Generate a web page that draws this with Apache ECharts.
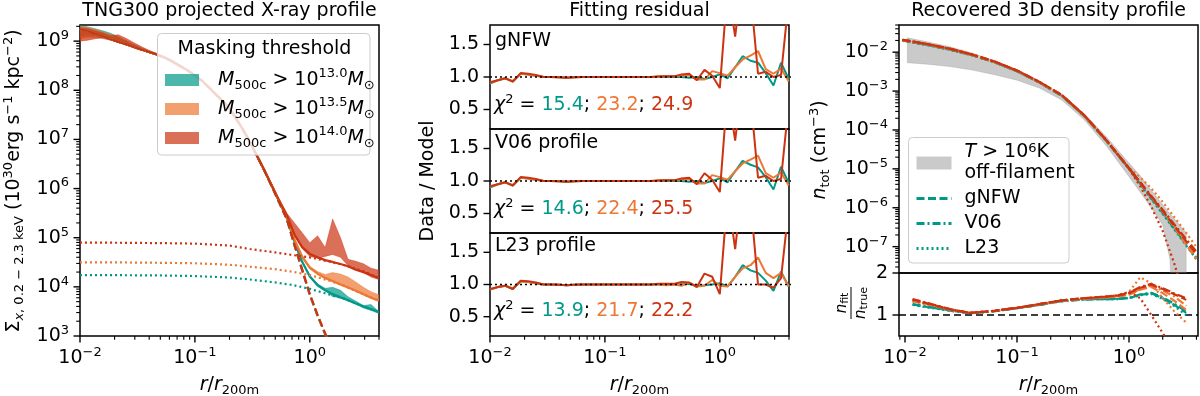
<!DOCTYPE html>
<html>
<head>
<meta charset="utf-8">
<title>X-ray profiles</title>
<script src="https://cdn.jsdelivr.net/npm/echarts@6/dist/echarts.min.js"></script>
<style>
html,body{margin:0;padding:0;background:#ffffff;}
#chart{width:1200px;height:396px;}
</style>
</head>
<body>
<div id="chart"></div>
<script>
// ======================= DATA =======================
// radial bins r/r200m (left & middle panels)
const rGrid = [0.0100,0.0117,0.0136,0.0158,0.0185,0.0215,0.0251,0.0293,0.0341,0.0398,
  0.0464,0.0541,0.0631,0.0736,0.0858,0.100,0.117,0.136,0.158,0.185,
  0.215,0.251,0.293,0.341,0.398,0.464,0.541,0.631,0.736,0.858,
  1.00,1.17,1.36,1.58,1.85,2.15,2.51,2.93,3.41,3.98];

// Left panel: log10 of surface brightness (data bands, lo/hi)
const logBandTealLo = [9.10,9.12,9.11,9.06,9.02,8.97,8.93,8.87,8.82,8.77,
  8.72,8.66,8.578,8.488,8.398,8.288,8.168,8.018,7.868,7.708,
  7.508,7.258,6.988,6.688,6.380,6.050,5.715,5.385,4.880,4.490,
  4.200,4.010,3.920,3.800,3.780,3.720,3.655,3.570,3.520,3.460];
const logBandTealHi = [9.32,9.29,9.25,9.21,9.16,9.09,9.01,8.93,8.86,8.80,
  8.745,8.685,8.602,8.512,8.422,8.312,8.192,8.042,7.892,7.732,
  7.532,7.282,7.012,6.712,6.405,6.080,5.745,5.415,4.930,4.530,
  4.235,4.060,3.970,3.990,3.930,3.800,3.710,3.620,3.640,3.500];
const logBandOrangeLo = [9.05,9.08,9.08,9.05,9.02,8.97,8.93,8.87,8.82,8.77,
  8.72,8.66,8.578,8.488,8.398,8.288,8.168,8.018,7.868,7.708,
  7.508,7.258,6.988,6.688,6.380,6.055,5.725,5.400,4.930,4.590,
  4.370,4.250,4.160,4.100,4.040,3.980,3.910,3.840,3.770,3.720];
const logBandOrangeHi = [9.30,9.28,9.24,9.19,9.14,9.08,9.01,8.93,8.86,8.80,
  8.745,8.685,8.602,8.512,8.422,8.312,8.192,8.042,7.892,7.732,
  7.532,7.282,7.012,6.712,6.410,6.085,5.755,5.435,4.990,4.640,
  4.420,4.310,4.250,4.290,4.260,4.200,4.100,3.990,3.900,3.840];
const logBandRedLo = [9.00,9.02,9.05,9.07,9.07,9.02,8.97,8.90,8.84,8.78,
  8.725,8.662,8.578,8.488,8.398,8.288,8.168,8.018,7.868,7.708,
  7.508,7.258,6.988,6.688,6.385,6.065,5.740,5.420,5.040,4.780,
  4.620,4.580,4.620,4.660,4.600,4.430,4.360,4.290,4.200,4.150];
const logBandRedHi = [9.27,9.25,9.21,9.17,9.11,9.13,9.06,8.97,8.89,8.815,
  8.75,8.685,8.602,8.512,8.422,8.312,8.192,8.042,7.892,7.732,
  7.532,7.282,7.012,6.712,6.410,6.090,5.780,5.500,5.300,5.100,
  4.900,5.040,4.800,5.380,5.000,4.560,4.520,4.470,4.380,4.340];

// Left panel: total model (solid), log10
const logSolidTeal = [9.25,9.20,9.15,9.10,9.04,8.99,8.94,8.88,8.83,8.78,
  8.73,8.67,8.59,8.50,8.41,8.30,8.18,8.03,7.88,7.72,
  7.52,7.27,7.00,6.70,6.392,6.065,5.730,5.400,4.911,4.510,
  4.210,4.032,3.931,3.852,3.786,3.728,3.663,3.600,3.550,3.490];
const logSolidOrange = [9.25,9.20,9.15,9.10,9.04,8.99,8.94,8.88,8.83,8.78,
  8.73,8.67,8.59,8.50,8.41,8.30,8.18,8.03,7.88,7.72,
  7.52,7.27,7.00,6.70,6.393,6.068,5.738,5.417,4.958,4.613,
  4.388,4.267,4.183,4.117,4.049,3.985,3.920,3.850,3.780,3.720];
const logSolidRed = [9.25,9.20,9.15,9.10,9.04,8.99,8.94,8.88,8.83,8.78,
  8.73,8.67,8.59,8.50,8.41,8.30,8.18,8.03,7.88,7.72,
  7.52,7.27,7.00,6.70,6.398,6.078,5.760,5.457,5.062,4.807,
  4.671,4.600,4.544,4.507,4.465,4.420,4.350,4.300,4.240,4.180];

// Left panel: halo component (dashed), log10, first 34 bins
const logHaloTeal = [9.25,9.20,9.15,9.10,9.04,8.99,8.94,8.88,8.83,8.78,
  8.73,8.67,8.59,8.50,8.41,8.30,8.18,8.03,7.88,7.72,
  7.52,7.27,7.00,6.70,6.385,6.055,5.715,5.375,4.840,4.335,3.835,3.405,3.035,2.690];
const logHaloOrange = [9.25,9.20,9.15,9.10,9.04,8.99,8.94,8.88,8.83,8.78,
  8.73,8.67,8.59,8.50,8.41,8.30,8.18,8.03,7.88,7.72,
  7.52,7.27,7.00,6.70,6.390,6.060,5.720,5.380,4.850,4.350,3.850,3.420,3.050,2.700];
const logHaloRed = [9.25,9.20,9.15,9.10,9.04,8.99,8.94,8.88,8.83,8.78,
  8.73,8.67,8.59,8.50,8.41,8.30,8.18,8.03,7.88,7.72,
  7.52,7.27,7.00,6.70,6.390,6.060,5.720,5.380,4.850,4.350,3.850,3.420,3.050,2.700];

// Left panel: background component (dotted), log10
const rBg = [0.01,0.02,0.05,0.1,0.2,0.3,0.5,0.7,1.0,1.5,2.0,3.0,4.0];
const logBgTeal   = [4.24,4.238,4.232,4.22,4.19,4.15,4.09,4.04,3.96,3.84,3.76,3.59,3.49];
const logBgOrange = [4.50,4.498,4.49,4.48,4.45,4.41,4.36,4.31,4.24,4.12,4.02,3.84,3.72];
const logBgRed    = [4.90,4.898,4.89,4.88,4.84,4.77,4.70,4.65,4.60,4.51,4.44,4.31,4.18];

// Middle panel: Data / Model residuals
const resG_t = [0.90,0.95,0.98,0.93,1.05,1.04,1.02,1.00,1.00,0.995,0.99,0.995,1.00,1.00,1.00,1.00,1.00,1.00,1.00,1.00,
  1.00,1.00,1.00,1.005,1.00,1.00,0.99,1.00,0.97,1.00,1.04,0.98,1.15,1.32,1.25,1.22,1.06,0.87,1.22,0.97];
const resG_o = [0.91,0.95,0.98,0.94,1.05,1.04,1.02,1.00,1.00,0.995,0.99,0.995,1.00,1.00,1.00,1.00,1.00,1.00,1.00,1.00,
  1.00,1.00,1.00,1.01,1.01,1.02,1.03,0.96,0.96,1.09,1.06,1.02,1.15,1.27,1.33,1.40,1.12,1.05,1.13,0.93];
const resG_r = [0.92,0.95,0.98,0.93,1.06,1.05,1.03,1.00,1.00,0.995,0.99,0.995,1.00,1.00,1.00,1.00,1.00,1.00,1.00,1.00,
  1.00,1.00,1.01,1.01,1.01,1.04,1.05,0.95,1.11,1.02,0.83,2.40,1.62,2.60,2.30,1.05,1.08,1.00,1.03,2.20];
const resV_t = [0.90,0.95,0.98,0.93,1.05,1.04,1.02,1.00,1.00,0.995,0.99,0.995,1.00,1.00,1.00,1.00,1.00,1.00,1.00,1.00,
  1.00,1.00,1.00,1.005,1.00,1.00,0.99,1.00,0.97,1.00,1.04,0.98,1.15,1.31,1.25,1.21,1.06,0.87,1.22,0.97];
const resV_o = [0.91,0.95,0.98,0.94,1.05,1.04,1.02,1.00,1.00,0.995,0.99,0.995,1.00,1.00,1.00,1.00,1.00,1.00,1.00,1.00,
  1.00,1.00,1.00,1.01,1.01,1.02,1.03,0.96,0.96,1.09,1.06,1.02,1.15,1.27,1.33,1.39,1.12,1.05,1.13,0.93];
const resV_r = [0.92,0.95,0.98,0.93,1.06,1.05,1.03,1.00,1.00,0.995,0.99,0.995,1.00,1.00,1.00,1.00,1.00,1.00,1.00,1.00,
  1.00,1.00,1.01,1.01,1.01,1.04,1.05,0.95,1.12,1.02,0.83,2.40,1.62,2.60,2.30,1.05,1.08,1.00,1.03,2.20];
const resL_t = [0.92,0.96,0.98,0.93,1.05,1.04,1.02,1.00,1.00,0.995,0.99,0.995,1.00,1.00,1.00,1.00,1.00,1.00,1.00,1.00,
  1.00,1.00,1.00,1.00,1.00,1.00,1.01,0.98,0.99,1.00,1.02,0.97,1.12,1.30,1.22,1.18,1.06,0.90,1.20,0.97];
const resL_o = [0.92,0.96,0.98,0.94,1.05,1.04,1.02,1.00,1.00,0.995,0.99,0.995,1.00,1.00,1.00,1.00,1.00,1.00,1.00,1.00,
  1.00,1.00,1.00,0.99,1.00,0.98,1.03,0.97,0.98,1.07,0.98,0.97,1.12,1.25,1.30,1.42,1.18,1.10,1.18,0.97];
const resL_r = [0.93,0.96,0.98,0.93,1.06,1.05,1.03,1.00,1.00,0.995,0.99,0.995,1.00,1.00,1.00,1.00,1.00,1.00,1.00,1.00,
  1.00,1.00,1.01,1.01,1.01,1.04,1.03,0.96,1.17,1.12,0.85,2.40,1.55,2.60,2.30,1.00,1.00,0.95,1.10,2.20];
const panelNames = ['gNFW', 'V06 profile', 'L23 profile'];
const chi2 = [['15.4','23.2','24.9'], ['14.6','22.4','25.5'], ['13.9','21.7','22.2']];
const unityX = [0.01, 4.2];
const unityY = [1, 1];

// Right panel (top): recovered 3D density, log10 n [cm^-3]
const rTop = [0.0095,0.0158,0.0251,0.0398,0.0631,0.100,0.158,0.251,0.398,0.631,1.00,1.26,1.58,2.00,2.51,3.16,3.98];
const logN_gNFW_t = [-1.70,-1.81,-1.93,-2.08,-2.26,-2.49,-2.78,-3.12,-3.64,-4.29,-5.00,-5.38,-5.75,-6.12,-6.50,-6.88,-7.25];
const logN_gNFW_o = [-1.69,-1.80,-1.92,-2.07,-2.25,-2.48,-2.77,-3.11,-3.63,-4.28,-4.99,-5.36,-5.73,-6.10,-6.48,-6.90,-7.32];
const logN_gNFW_r = [-1.68,-1.79,-1.91,-2.06,-2.24,-2.47,-2.76,-3.10,-3.62,-4.27,-4.98,-5.35,-5.72,-6.08,-6.45,-6.82,-7.18];
const logN_V06_t  = [-1.70,-1.81,-1.93,-2.08,-2.26,-2.49,-2.78,-3.12,-3.64,-4.29,-5.00,-5.38,-5.76,-6.14,-6.52,-6.90,-7.28];
const logN_V06_o  = [-1.69,-1.80,-1.92,-2.07,-2.25,-2.48,-2.77,-3.11,-3.63,-4.28,-4.99,-5.36,-5.72,-6.08,-6.45,-6.84,-7.22];
const logN_V06_r  = [-1.68,-1.79,-1.91,-2.06,-2.24,-2.47,-2.76,-3.10,-3.62,-4.27,-4.98,-5.34,-5.70,-6.05,-6.41,-6.77,-7.12];
const logN_L23_t  = [-1.71,-1.82,-1.94,-2.08,-2.26,-2.49,-2.78,-3.12,-3.64,-4.29,-5.00,-5.39,-5.78,-6.16,-6.54,-6.93,-7.32];
const logN_L23_o  = [-1.69,-1.80,-1.92,-2.07,-2.25,-2.48,-2.77,-3.11,-3.63,-4.28,-4.97,-5.22,-5.50,-5.85,-6.22,-6.60,-7.00];
const logN_L23_r  = [-1.68,-1.79,-1.91,-2.06,-2.24,-2.47,-2.76,-3.10,-3.62,-4.27,-5.00,-5.45,-5.97,-6.60,-7.40,-8.30,-9.20];
// gray band: T > 1e6 K off-filament gas
const rHot = [0.0105,0.0158,0.0251,0.0398,0.0631,0.100,0.158,0.251,0.398,0.631,1.00,1.26,1.58,2.00,2.32,2.75,3.24];
const logHotLo = [-2.27,-2.31,-2.37,-2.46,-2.58,-2.72,-2.92,-3.23,-3.74,-4.42,-5.20,-5.60,-6.00,-6.45,-7.33,-12,-12];
const logHotHi = [-1.63,-1.73,-1.86,-2.02,-2.22,-2.46,-2.75,-3.09,-3.58,-4.18,-4.85,-5.18,-5.55,-5.92,-6.15,-6.40,-6.64];

// Right panel (bottom): n_fit / n_true
const rRatio = [0.0117,0.0158,0.0251,0.0380,0.0631,0.100,0.158,0.251,0.398,0.631,0.794,1.00,1.26,1.58,2.00,2.51,3.24];
const ratio_gNFW_t = [1.25,1.19,1.11,1.045,1.09,1.16,1.24,1.33,1.37,1.38,1.38,1.40,1.48,1.52,1.40,1.25,1.05];
const ratio_gNFW_o = [1.33,1.26,1.13,1.05,1.10,1.17,1.25,1.34,1.39,1.42,1.44,1.48,1.60,1.67,1.52,1.35,1.12];
const ratio_gNFW_r = [1.37,1.28,1.14,1.05,1.10,1.17,1.26,1.35,1.40,1.44,1.46,1.52,1.65,1.72,1.62,1.50,1.36];
const ratio_V06_t  = [1.26,1.20,1.11,1.045,1.09,1.16,1.24,1.33,1.37,1.38,1.39,1.41,1.49,1.53,1.42,1.28,1.08];
const ratio_V06_o  = [1.34,1.27,1.13,1.05,1.10,1.17,1.25,1.34,1.39,1.42,1.44,1.49,1.62,1.70,1.58,1.45,1.22];
const ratio_V06_r  = [1.38,1.29,1.14,1.05,1.10,1.17,1.26,1.35,1.40,1.44,1.47,1.53,1.67,1.74,1.64,1.52,1.40];
const ratio_L23_t  = [1.24,1.18,1.10,1.04,1.09,1.16,1.24,1.33,1.37,1.38,1.38,1.40,1.47,1.50,1.38,1.22,1.00];
const ratio_L23_o  = [1.32,1.25,1.12,1.05,1.10,1.17,1.25,1.34,1.39,1.42,1.45,1.55,1.90,1.75,1.40,1.10,0.82];
const ratio_L23_r  = [1.36,1.27,1.13,1.05,1.10,1.17,1.26,1.35,1.40,1.44,1.47,1.55,1.40,1.00,0.57,0.15,0.05];
const ratioUnityX = [0.00884, 4.13];

// tick labels
const xMajor = [0.01, 0.1, 1];
const yMajorLeft = [1e3, 1e4, 1e5, 1e6, 1e7, 1e8, 1e9];
const yMajorMid = [0.5, 1.0, 1.5];
const yMajorRightTop = [1e-7, 1e-6, 1e-5, 1e-4, 1e-3, 1e-2];
const yMajorRightBottom = [1, 2];
const thresholdLabels = ['13.0', '13.5', '14.0'];

// ======================= STYLE =======================
const FONT = 'DejaVu Sans';
const FS = 19;
const TEAL = '#009988', ORANGE = '#EE7733', RED = '#CC3311';
const TEAL_A = 'rgba(0,153,136,0.7)', ORANGE_A = 'rgba(238,119,51,0.7)', RED_A = 'rgba(204,51,17,0.7)';
const GRAY_A = 'rgba(128,128,128,0.42)';
const DASH = [8, 3.5], DASHDOT = [8, 3, 2, 3], DOT = [2, 3];

function mkRich(fs) {
  const sm = Math.round(fs * 0.7);
  const b = {fontFamily: FONT, color: '#000', fill: '#000'};
  return {
    i: Object.assign({}, b, {fontSize: fs, fontStyle: 'italic'}),
    n: Object.assign({}, b, {fontSize: fs}),
    p: Object.assign({}, b, {fontSize: sm, lineHeight: sm, verticalAlign: 'top'}),
    s: Object.assign({}, b, {fontSize: sm, lineHeight: sm, verticalAlign: 'bottom'}),
    si: Object.assign({}, b, {fontSize: sm, lineHeight: sm, verticalAlign: 'bottom', fontStyle: 'italic'}),
    t: {fontFamily: FONT, fontSize: fs, color: TEAL, fill: TEAL},
    o: {fontFamily: FONT, fontSize: fs, color: ORANGE, fill: ORANGE},
    r: {fontFamily: FONT, fontSize: fs, color: RED, fill: RED}
  };
}
const RICH = mkRich(FS);
const RICH_S = mkRich(15);

function fmtPow(v) {
  const l = Math.log10(v), e = Math.round(l);
  if (Math.abs(l - e) > 1e-6) return '';
  return '10{p|' + (e < 0 ? '\u2212' + (-e) : String(e)) + '}';
}
function minorLog(lo, hi) {
  const out = [];
  for (let e = Math.floor(Math.log10(lo)); e <= Math.ceil(Math.log10(hi)); e++) {
    for (let k = 2; k <= 9; k++) {
      const v = k * Math.pow(10, e);
      if (v >= lo * 0.9999 && v <= hi * 1.0001) out.push(v);
    }
  }
  return out;
}
const pw = a => a.map(v => Math.pow(10, v));

// ======================= AXES =======================
const LBL = {color: '#000', fontFamily: FONT, fontSize: FS, lineHeight: 24, rich: RICH};
function logAxis(gi, min, max, majors, show, margin) {
  return {type: 'log', logBase: 10, gridIndex: gi, min: min, max: max,
    axisLine: {show: false}, axisTick: {show: false}, splitLine: {show: false}, minorTick: {show: false},
    axisLabel: show ? Object.assign({show: true, margin: margin, customValues: majors, formatter: fmtPow}, LBL) : {show: false}};
}
function linAxis(gi, min, max, majors, fmt, show, margin) {
  return {type: 'value', gridIndex: gi, min: min, max: max,
    axisLine: {show: false}, axisTick: {show: false}, splitLine: {show: false},
    axisLabel: show ? Object.assign({show: true, margin: margin, customValues: majors, formatter: fmt}, LBL) : {show: false}};
}
const LX = [0.01, 4], RX = [0.00884, 4.13];
const LY = [1e3, 2.13e9], MY = [0.2, 1.8], RTY = [2.1e-8, 0.05], RBY = [0.5, 2];

const xAxes = [
  logAxis(0, LX[0], LX[1], xMajor, true, 10),
  logAxis(1, LX[0], LX[1], xMajor, false),
  logAxis(2, LX[0], LX[1], xMajor, false),
  logAxis(3, LX[0], LX[1], xMajor, true, 10),
  logAxis(4, RX[0], RX[1], xMajor, false),
  logAxis(5, RX[0], RX[1], xMajor, true, 10)
];
const yAxes = [
  logAxis(0, LY[0], LY[1], yMajorLeft, true, 11),
  linAxis(1, MY[0], MY[1], yMajorMid, v => v.toFixed(1), true, 11),
  linAxis(2, MY[0], MY[1], yMajorMid, v => v.toFixed(1), true, 11),
  linAxis(3, MY[0], MY[1], yMajorMid, v => v.toFixed(1), true, 11),
  logAxis(4, RTY[0], RTY[1], yMajorRightTop, true, 11),
  linAxis(5, RBY[0], RBY[1], yMajorRightBottom, v => String(v), true, 11)
];

// ======================= SERIES =======================
const series = [];
function band(name, ai, xs, lo, hi, color, z) {
  const data = xs.map((x, i) => [x, Math.pow(10, lo[i]), Math.pow(10, hi[i])]);
  return {type: 'custom', name: name, xAxisIndex: ai, yAxisIndex: ai, clip: true, silent: true, z: z || 2,
    itemStyle: {color: color}, data: data, encode: {x: 0, y: [1, 2]},
    renderItem: function (p, api) {
      if (p.dataIndex !== 0) return null;
      const up = data.map(d => api.coord([d[0], d[2]]));
      const dn = data.map(d => api.coord([d[0], d[1]])).reverse();
      return {type: 'polygon', shape: {points: up.concat(dn)}, style: {fill: color, stroke: color, lineWidth: 0.6}};
    }};
}
function line(ai, xs, ys, color, type, width, z, name) {
  const s = {type: 'line', xAxisIndex: ai, yAxisIndex: ai, data: ys.map((y, i) => [xs[i], y]),
    symbol: 'none', showSymbol: false, silent: true, clip: true, z: z || 3,
    lineStyle: {color: color, width: width, type: type}, itemStyle: {color: color}};
  if (name) s.name = name;
  return s;
}
function ticks(ai, vals, axis, anchor, len, w) {
  return {type: 'custom', xAxisIndex: ai, yAxisIndex: ai, silent: true, clip: false, z: 20,
    data: vals.map(v => axis === 'x' ? [v, anchor] : [anchor, v]), encode: {x: 0, y: 1},
    renderItem: function (p, api) {
      const pt = api.coord([api.value(0), api.value(1)]);
      const shape = axis === 'x' ? {x1: pt[0], y1: pt[1], x2: pt[0], y2: pt[1] + len}
                                 : {x1: pt[0], y1: pt[1], x2: pt[0] - len, y2: pt[1]};
      return {type: 'line', shape: shape, style: {stroke: '#000', lineWidth: w}};
    }};
}

// --- left panel
series.push(band('m130', 0, rGrid, logBandTealLo, logBandTealHi, TEAL_A));
series.push(band('m135', 0, rGrid, logBandOrangeLo, logBandOrangeHi, ORANGE_A));
series.push(band('m140', 0, rGrid, logBandRedLo, logBandRedHi, RED_A));
series.push(line(0, rGrid, pw(logSolidTeal), TEAL, 'solid', 2.2));
series.push(line(0, rGrid, pw(logSolidOrange), ORANGE, 'solid', 2.2));
series.push(line(0, rGrid, pw(logSolidRed), RED, 'solid', 2.2));
series.push(line(0, rGrid, pw(logHaloTeal), TEAL, DASH, 2.2));
series.push(line(0, rGrid, pw(logHaloOrange), ORANGE, DASH, 2.2));
series.push(line(0, rGrid, pw(logHaloRed), RED, [8, 3.5], 2.2));
series.push(line(0, rBg, pw(logBgTeal), TEAL, DOT, 2.2));
series.push(line(0, rBg, pw(logBgOrange), ORANGE, DOT, 2.2));
series.push(line(0, rBg, pw(logBgRed), RED, DOT, 2.2));

// --- middle panels
const residSets = [[resG_t, resG_o, resG_r], [resV_t, resV_o, resV_r], [resL_t, resL_o, resL_r]];
const cols = [TEAL, ORANGE, RED];
residSets.forEach((set, k) => {
  const ai = k + 1;
  set.forEach((arr, j) => series.push(line(ai, rGrid, arr, cols[j], 'solid', 2, 3)));
  series.push(line(ai, unityX, unityY, '#000', [2, 3], 1.6, 6));
});

// --- right top
series.push(band('hot', 4, rHot, logHotLo, logHotHi, GRAY_A, 1));
const nSets = [[logN_gNFW_t, logN_V06_t, logN_L23_t], [logN_gNFW_o, logN_V06_o, logN_L23_o], [logN_gNFW_r, logN_V06_r, logN_L23_r]];
const styles = [DASH, DASHDOT, DOT];
const modelNames = ['gNFW', 'V06', 'L23'];
nSets.forEach((set, j) => set.forEach((arr, m) =>
  series.push(line(4, rTop, pw(arr), cols[j], styles[m], 2.2, 3, j === 0 ? modelNames[m] : null))));

// --- right bottom
series.push(line(5, ratioUnityX, unityY, '#000', [7, 4], 1.6, 2));
const qSets = [[ratio_gNFW_t, ratio_V06_t, ratio_L23_t], [ratio_gNFW_o, ratio_V06_o, ratio_L23_o], [ratio_gNFW_r, ratio_V06_r, ratio_L23_r]];
qSets.forEach((set, j) => set.forEach((arr, m) =>
  series.push(line(5, rRatio, arr, cols[j], styles[m], 2.2, 3))));

// --- ticks (major + minor)
const MJ = 6.5, MN = 3.8;
series.push(ticks(0, xMajor, 'x', LY[0], MJ, 1.4));
series.push(ticks(0, minorLog(LX[0], LX[1]), 'x', LY[0], MN, 1.1));
series.push(ticks(0, yMajorLeft, 'y', LX[0], MJ, 1.4));
series.push(ticks(0, minorLog(LY[0], LY[1]), 'y', LX[0], MN, 1.1));
[1, 2, 3].forEach(ai => series.push(ticks(ai, yMajorMid, 'y', LX[0], MJ, 1.4)));
series.push(ticks(3, xMajor, 'x', MY[0], MJ, 1.4));
series.push(ticks(3, minorLog(LX[0], LX[1]), 'x', MY[0], MN, 1.1));
series.push(ticks(4, yMajorRightTop, 'y', RX[0], MJ, 1.4));
series.push(ticks(4, minorLog(RTY[0], RTY[1]), 'y', RX[0], MN, 1.1));
series.push(ticks(5, yMajorRightBottom, 'y', RX[0], MJ, 1.4));
series.push(ticks(5, xMajor, 'x', RBY[0], MJ, 1.4));
series.push(ticks(5, minorLog(RX[0], RX[1]), 'x', RBY[0], MN, 1.1));

// ======================= TEXT / GRAPHICS =======================
function txt(x, y, text, o) {
  o = o || {};
  return {type: 'text', x: x, y: y, z: 110, silent: true, rotation: o.rot || 0,
    style: {text: text, fill: '#000', fontFamily: FONT, fontSize: o.fs || FS, lineHeight: o.lh || 24,
      align: o.align || 'left', verticalAlign: 'middle', rich: o.rich || RICH}};
}
const graphics = [
  // titles
  txt(229.5, 11, 'TNG300 projected X-ray profile', {align: 'center'}),
  txt(639.5, 11, 'Fitting residual', {align: 'center'}),
  txt(1048.5, 11, 'Recovered 3D density profile', {align: 'center'}),
  // x labels
  txt(229.5, 385, '{i|r}/{i|r}{s|200m}', {align: 'center'}),
  txt(639.5, 385, '{i|r}/{i|r}{s|200m}', {align: 'center'}),
  txt(1048.5, 385, '{i|r}/{i|r}{s|200m}', {align: 'center'}),
  // y labels
  txt(14, 181, '\u03A3{si|x}{s|, 0.2 \u2212 2.3 keV} (10{p|30}erg s{p|\u22121} kpc{p|\u22122})', {align: 'center', rot: Math.PI / 2}),
  txt(428, 181, 'Data / Model', {align: 'center', rot: Math.PI / 2}),
  txt(820, 150, '{i|n}{s|tot} (cm{p|\u22123})', {align: 'center', rot: Math.PI / 2}),
  {type: 'group', x: 851, y: 303, rotation: Math.PI / 2, z: 110, silent: true, children: [
    {type: 'text', x: 0, y: -9, style: {text: '{i|n}{s|fit}', align: 'center', verticalAlign: 'middle', fontFamily: FONT, fontSize: 15, lineHeight: 18, fill: '#000', rich: RICH_S}},
    {type: 'line', shape: {x1: -16, y1: 0, x2: 16, y2: 0}, style: {stroke: '#000', lineWidth: 1}},
    {type: 'text', x: 0, y: 10, style: {text: '{i|n}{s|true}', align: 'center', verticalAlign: 'middle', fontFamily: FONT, fontSize: 15, lineHeight: 18, fill: '#000', rich: RICH_S}}
  ]},
  // panel annotations
  txt(495, 41, panelNames[0]),
  txt(495, 143, panelNames[1]),
  txt(495, 246.5, panelNames[2]),
  txt(494, 105.5, '{i|\u03C7}{p|2} = {t|' + chi2[0][0] + '}; {o|' + chi2[0][1] + '}; {r|' + chi2[0][2] + '}'),
  txt(494, 209.5, '{i|\u03C7}{p|2} = {t|' + chi2[1][0] + '}; {o|' + chi2[1][1] + '}; {r|' + chi2[1][2] + '}'),
  txt(494, 311.5, '{i|\u03C7}{p|2} = {t|' + chi2[2][0] + '}; {o|' + chi2[2][1] + '}; {r|' + chi2[2][2] + '}'),
  // legend frames
  {type: 'rect', z: 100, silent: true, shape: {x: 157.5, y: 33.5, width: 212.5, height: 121.5, r: 4},
    style: {fill: 'rgba(255,255,255,0.8)', stroke: '#cccccc', lineWidth: 1}},
  txt(264.5, 49, 'Masking threshold', {align: 'center'}),
  {type: 'rect', z: 100, silent: true, shape: {x: 908.5, y: 137.5, width: 160.5, height: 125.5, r: 4},
    style: {fill: 'rgba(255,255,255,0.8)', stroke: '#cccccc', lineWidth: 1}}
];

// ======================= OPTION =======================
const gridBase = {show: true, borderColor: '#000', borderWidth: 1.5, backgroundColor: 'transparent', containLabel: false};
const noSymbol = {opacity: 0, color: 'rgba(0,0,0,0)', borderWidth: 0};
const option = {
  animation: false,
  backgroundColor: '#ffffff',
  textStyle: {fontFamily: FONT},
  grid: [
    Object.assign({left: 80, top: 25, width: 299, height: 311}, gridBase),
    Object.assign({left: 490, top: 25, width: 299, height: 104}, gridBase),
    Object.assign({left: 490, top: 129, width: 299, height: 104}, gridBase),
    Object.assign({left: 490, top: 233, width: 299, height: 103}, gridBase),
    Object.assign({left: 899, top: 25, width: 299, height: 248}, gridBase),
    Object.assign({left: 899, top: 273, width: 299, height: 63}, gridBase)
  ],
  xAxis: xAxes,
  yAxis: yAxes,
  legend: [
    {data: ['m130', 'm135', 'm140'], orient: 'vertical', left: 165, top: 67.5, padding: 0,
      itemWidth: 34, itemHeight: 12, itemGap: 4, icon: 'rect', selectedMode: false, z: 120,
      formatter: function (name) {
        const k = ['m130', 'm135', 'm140'].indexOf(name);
        return '{i|M}{s|500c} > 10{p|' + thresholdLabels[k] + '}{i|M}{s|\u2299}';
      },
      textStyle: {fontFamily: FONT, fontSize: FS, color: '#000', lineHeight: 25, padding: [0, 0, 0, 14], rich: RICH}},
    {data: [{name: 'hot', icon: 'rect'},
            {name: 'gNFW', itemStyle: noSymbol},
            {name: 'V06', itemStyle: noSymbol},
            {name: 'L23', itemStyle: noSymbol}],
      orient: 'vertical', left: 915, top: 142, padding: 0,
      itemWidth: 35, itemHeight: 13, itemGap: 4, selectedMode: false, z: 120,
      lineStyle: {width: 3},
      formatter: function (name) {
        return name === 'hot' ? '{i|T} > 10{p|6}K\noff-filament' : name;
      },
      textStyle: {fontFamily: FONT, fontSize: FS, color: '#000', lineHeight: 21, padding: [0, 0, 0, 8], rich: RICH}}
  ],
  graphic: graphics,
  series: series
};

const chart = echarts.init(document.getElementById('chart'), null, {renderer: 'canvas'});
chart.setOption(option);
</script>
</body>
</html>
